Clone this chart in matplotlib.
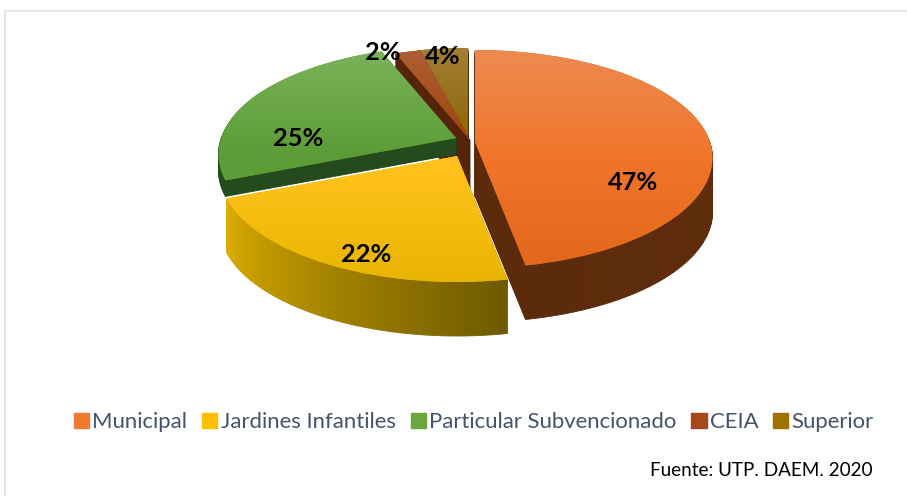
import numpy as np
import matplotlib
matplotlib.use('Agg')
import matplotlib.pyplot as plt
from matplotlib.colors import LinearSegmentedColormap, to_rgb
from matplotlib.patches import Rectangle
from matplotlib.transforms import Affine2D, Transform

# Data
labels = ['Municipal', 'Jardines Infantiles', 'Particular Subvencionado', 'CEIA', 'Superior']
values = [47, 22, 25, 2, 4]

# Colours: legend, top face gradient (top, middle, bottom), side gradient (start, end of slice)
colors = ['#F07A2E', '#FFC000', '#6AA83F', '#A5481A', '#A07200']
top_grad = [('#EE8A50', '#F0752A', '#E2671A'), ('#FFC832', '#FFC21A', '#E8B400'),
            ('#7DB45B', '#5C9C36', '#5C9C36'), ('#AE6038', '#9C3E04', '#9C3E04'),
            ('#A47E34', '#886200', '#886200')]
side_grad = [('#64310F', '#5C2B0B'), ('#6E5A00', '#DCAE00'), ('#254A1D', '#264D1E'),
             ('#55240A', '#55240A'), ('#4F2C06', '#4F2C06')]

# Layout in picture pixels (apex of each slice)
apex_x = [475, 457, 456, 470, 468]
apex_y = [142, 156, 138, 140, 140]
depth = [54, 54, 16, 54, 54]
rx, ry, skew = 235, 109, 17
draw_order = [4, 3, 2, 1, 0]
label_pos = [(633, 182), (366, 254), (298, 138), (383, 52), (443, 57)]
W, H = 907, 496


# chart is seen from above: far side shrinks a bit, near side gets bigger
class TiltTransform(Transform):
    input_dims = 2
    output_dims = 2

    def transform_non_affine(self, values):
        x, y = np.asarray(values).T
        return np.column_stack([rx * x * (1 - 0.15 * y), ry * y - skew * y * y])


def mix(c0, c1, t):
    a, b = np.array(to_rgb(c0)), np.array(to_rgb(c1))
    return tuple(a + (b - a) * t)


fig = plt.figure(figsize=(W / 100, H / 100), dpi=100)
ax = fig.add_axes([0, 0, 1, 1])
tilt = TiltTransform()

fractions = [v / sum(values) for v in values]
starts = [90 - 360 * sum(fractions[:i]) for i in range(len(values))]

for z, i in enumerate(draw_order):
    base = (z + 1) * 1000
    n = max(3, int(fractions[i] * 200))
    shades = [mix(side_grad[i][0], side_grad[i][1], k / (n - 1)) for k in range(n)]

    # side of the slice: stack of pies going up
    for d in range(depth[i], 0, -1):
        wedges, _ = ax.pie([fractions[i] / n] * n, startangle=starts[i], counterclock=False,
                           colors=shades, normalize=False)
        move = Affine2D().translate(apex_x[i], H - apex_y[i] - d)
        for w in wedges:
            w.set_transform(tilt + move + ax.transData)
            w.set_edgecolor(w.get_facecolor())
            w.set_linewidth(0.6)
            w.set_zorder(base + 100 - d)

    # top face with vertical gradient
    wedges, _ = ax.pie([fractions[i]], startangle=starts[i], counterclock=False,
                       colors=[top_grad[i][2]], normalize=False, wedgeprops={'linewidth': 0})
    move = Affine2D().translate(apex_x[i], H - apex_y[i])
    wedges[0].set_transform(tilt + move + ax.transData)
    wedges[0].set_zorder(base + 101)
    cmap = LinearSegmentedColormap.from_list('g', top_grad[i])
    im = ax.imshow(np.linspace(0, 1, 200).reshape(-1, 1), cmap=cmap, aspect='auto',
                   extent=(apex_x[i] - 260, apex_x[i] + 260,
                           H - apex_y[i] - 130, H - apex_y[i] + 95))
    im.set_clip_path(wedges[0])
    im.set_zorder(base + 102)

ax.set_aspect('auto')
ax.set_xlim(0, W)
ax.set_ylim(0, H)
ax.axis('off')

# chart frame, only top and left edges are inside the picture
ax.add_patch(Rectangle((5, -5), W, H - 6, fill=False, edgecolor='#DFE3EC', linewidth=1.2, zorder=1))

for v, (px, py) in zip(values, label_pos):
    ax.text(px, H - py, f'{v}%', ha='center', va='center', fontsize=18.3, fontweight='bold',
            family='Lato', color='black', zorder=9000)

handles = [Rectangle((0, 0), 1, 1, color=c) for c in colors]
leg = ax.legend(handles, labels, ncols=5, loc='center', bbox_to_anchor=(474 / W, 1 - 422 / H),
                frameon=False, handlelength=0.68, handleheight=0.68, handletextpad=0.15,
                columnspacing=0.68, prop={'family': 'Lato', 'size': 15.9}, labelcolor='#44546A')
leg.set_zorder(9000)

ax.text(872, H - 471, 'Fuente: UTP. DAEM. 2020', ha='right', va='center', fontsize=13.6,
        family='Lato', color='black', zorder=9000)

fig.savefig('out.png', dpi=100)
